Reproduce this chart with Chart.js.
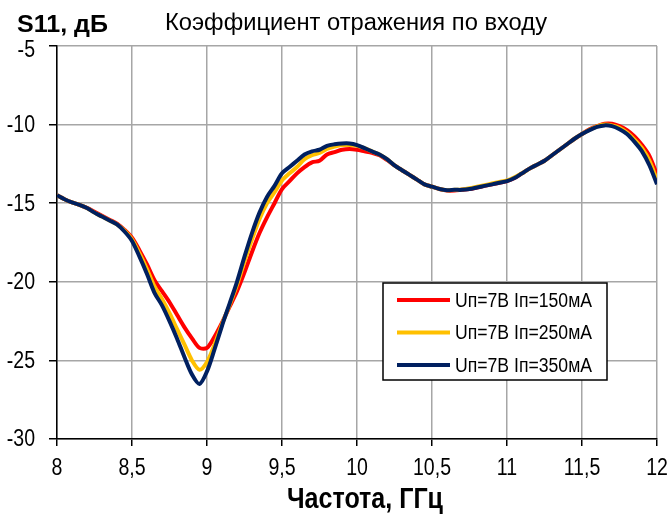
<!DOCTYPE html>
<html>
<head>
<meta charset="utf-8">
<script src="https://cdn.jsdelivr.net/npm/chart.js@4.4.1/dist/chart.umd.min.js"></script>
<style>
  html, body { margin: 0; padding: 0; background: #fff; }
  #wrap { width: 672px; height: 517px; position: relative; }
</style>
</head>
<body>
<div id="wrap"><canvas id="c" width="672" height="517"></canvas></div>
<script>
// Frequency grid, GHz
const freq = [
  8.00, 8.05, 8.10, 8.15, 8.20, 8.25, 8.30, 8.35, 8.40, 8.45,
  8.50, 8.55, 8.60, 8.65, 8.70, 8.75, 8.80, 8.85, 8.90, 8.95,
  9.00, 9.05, 9.10, 9.15, 9.20, 9.25, 9.30, 9.35, 9.40, 9.45,
  9.50, 9.55, 9.60, 9.65, 9.70, 9.75, 9.80, 9.85, 9.90, 9.95,
  10.00, 10.05, 10.10, 10.15, 10.20, 10.25, 10.30, 10.35, 10.40, 10.45,
  10.50, 10.55, 10.60, 10.65, 10.70, 10.75, 10.80, 10.85, 10.90, 10.95,
  11.00, 11.05, 11.10, 11.15, 11.20, 11.25, 11.30, 11.35, 11.40, 11.45,
  11.50, 11.55, 11.60, 11.65, 11.70, 11.75, 11.80, 11.85, 11.90, 11.95,
  12.00
];

// S11, dB at Iп = 150 mA
const s11_150 = [
  -14.5, -14.75, -14.95, -15.1, -15.3, -15.55, -15.8, -16.05, -16.3, -16.7,
  -17.2, -18.0, -18.9, -19.9, -20.6, -21.3, -22.1, -22.9, -23.6, -24.2,
  -24.2, -23.5, -22.6, -21.6, -20.6, -19.4, -18.1, -16.9, -15.9, -15.0,
  -14.1, -13.6, -13.1, -12.7, -12.4, -12.3, -11.9, -11.75, -11.6, -11.55,
  -11.6, -11.7, -11.8, -11.95, -12.25, -12.6, -12.9, -13.2, -13.5, -13.8,
  -13.95, -14.1, -14.2, -14.2, -14.15, -14.1, -14.0, -13.9, -13.8, -13.7,
  -13.6, -13.4, -13.1, -12.8, -12.55, -12.3, -11.95, -11.6, -11.25, -10.9,
  -10.6, -10.3, -10.1, -9.95, -9.95, -10.1, -10.35, -10.75, -11.3, -12.0,
  -13.2
];

// S11, dB at Iп = 250 mA
const s11_250 = [
  -14.5, -14.75, -14.95, -15.1, -15.3, -15.6, -15.85, -16.1, -16.35, -16.75,
  -17.3, -18.2, -19.2, -20.3, -21.1, -22.0, -23.0, -24.0, -25.0, -25.6,
  -25.1, -24.0, -22.7, -21.5, -20.2, -18.7, -17.3, -16.0, -15.0, -14.3,
  -13.55, -13.1, -12.7, -12.2, -11.95, -11.8, -11.55, -11.4, -11.3, -11.3,
  -11.35, -11.5, -11.7, -11.9, -12.2, -12.6, -12.9, -13.2, -13.5, -13.8,
  -13.95, -14.1, -14.17, -14.15, -14.12, -14.05, -13.95, -13.85, -13.75, -13.65,
  -13.55, -13.35, -13.1, -12.8, -12.55, -12.3, -11.95, -11.6, -11.25, -10.9,
  -10.6, -10.33, -10.12, -10.0, -10.05, -10.2, -10.5, -10.95, -11.5, -12.3,
  -13.55
];

// S11, dB at Iп = 350 mA
const s11_350 = [
  -14.5, -14.75, -14.95, -15.1, -15.3, -15.6, -15.85, -16.1, -16.35, -16.8,
  -17.4, -18.4, -19.5, -20.7, -21.5, -22.5, -23.6, -24.8, -25.9, -26.5,
  -25.7, -24.3, -22.8, -21.4, -20.0, -18.4, -16.9, -15.6, -14.6, -13.9,
  -13.1, -12.7, -12.3, -11.9, -11.7, -11.6, -11.35, -11.25, -11.2, -11.2,
  -11.3, -11.5, -11.7, -11.9, -12.2, -12.6, -12.9, -13.2, -13.5, -13.8,
  -13.95, -14.1, -14.17, -14.15, -14.15, -14.1, -14.0, -13.9, -13.8, -13.7,
  -13.6, -13.4, -13.1, -12.8, -12.55, -12.3, -11.95, -11.6, -11.25, -10.9,
  -10.6, -10.35, -10.15, -10.05, -10.1, -10.3, -10.6, -11.1, -11.7, -12.6,
  -13.8
];

const seriesLabels = ['Uп=7В Iп=150мА', 'Uп=7В Iп=250мА', 'Uп=7В Iп=350мА'];
const seriesColors = ['#ff0000', '#ffc000', '#002060'];
const seriesValues = [s11_150, s11_250, s11_350];

const xTicks = [8, 8.5, 9, 9.5, 10, 10.5, 11, 11.5, 12];
const yTicks = [-5, -10, -15, -20, -25, -30];

const FONT = '"Liberation Sans", Arial, sans-serif';
const NARROW = 0.85; // horizontal squeeze giving a narrow face

const datasets = seriesValues.map((vals, i) => ({
  label: seriesLabels[i],
  data: freq.map((f, k) => ({ x: f, y: vals[k] })),
  borderColor: seriesColors[i],
  backgroundColor: seriesColors[i],
  borderWidth: 4,
  pointRadius: 0,
  tension: 0.3,
  order: 3 - i
}));

const fmt = v => String(v).replace('.', ',');

// text drawn with a horizontal squeeze; if width is given the text is fitted to it
function squeezed(ctx, text, x, y, font, align, width) {
  ctx.save();
  ctx.font = font;
  const w = ctx.measureText(text).width;
  const sx = width ? width / w : NARROW;
  ctx.translate(x, y);
  ctx.scale(sx, 1);
  ctx.textAlign = align;
  ctx.fillText(text, 0, 0);
  ctx.restore();
}

// tick labels, headings and the boxed legend inside the plot
const decor = {
  id: 'decor',
  afterDraw(chart) {
    const ctx = chart.ctx;
    const xs = chart.scales.x, ys = chart.scales.y;
    ctx.save();
    ctx.fillStyle = '#000';

    // axis tick labels
    ctx.textBaseline = 'alphabetic';
    xTicks.forEach(v => {
      squeezed(ctx, fmt(v), xs.getPixelForValue(v), 475, '23px ' + FONT, 'center');
    });
    ctx.textBaseline = 'middle';
    yTicks.forEach(v => {
      const py = Math.max(ys.getPixelForValue(v) + 1, 51);
      squeezed(ctx, fmt(v), 35, py, '23px ' + FONT, 'right');
    });

    // headings
    ctx.textBaseline = 'alphabetic';
    squeezed(ctx, 'S11, дБ', 17, 32, 'bold 23px ' + FONT, 'left', 91);
    squeezed(ctx, 'Коэффициент отражения по входу', 165, 30, '23px ' + FONT, 'left', 382);
    squeezed(ctx, 'Частота, ГГц', 287, 508, 'bold 29px ' + FONT, 'left', 156);

    // legend
    const bx = 383, by = 283, bw = 224, bh = 97;
    ctx.fillStyle = '#fff';
    ctx.fillRect(bx, by, bw, bh);
    ctx.strokeStyle = '#000';
    ctx.lineWidth = 1.5;
    ctx.strokeRect(bx, by, bw, bh);
    ctx.textBaseline = 'middle';
    chart.data.datasets.forEach((ds, i) => {
      const ly = by + 17 + i * 32.5;
      ctx.strokeStyle = ds.borderColor;
      ctx.lineWidth = 4;
      ctx.beginPath();
      ctx.moveTo(397, ly);
      ctx.lineTo(450, ly);
      ctx.stroke();
      ctx.fillStyle = '#000';
      squeezed(ctx, ds.label, 455, ly + 1, '20px ' + FONT, 'left', 137);
    });
    ctx.restore();
  }
};

new Chart(document.getElementById('c'), {
  type: 'line',
  data: { datasets },
  options: {
    responsive: false,
    animation: false,
    layout: { padding: { top: 46, right: 15, left: 0, bottom: 0 } },
    plugins: {
      legend: { display: false },
      title: { display: false },
      tooltip: { enabled: false }
    },
    scales: {
      x: {
        type: 'linear',
        min: 8, max: 12,
        afterBuildTicks: s => { s.ticks = xTicks.map(v => ({ value: v })); },
        afterFit: s => { s.height = 78; },
        ticks: { display: false },
        grid: { color: '#a6a6a6', lineWidth: 1.5, tickColor: '#000', tickLength: 7, drawTicks: true },
        border: { color: '#000', width: 1.5 }
      },
      y: {
        min: -30, max: -5,
        afterBuildTicks: s => { s.ticks = yTicks.map(v => ({ value: v })); },
        afterFit: s => { s.width = 57; },
        ticks: { display: false },
        grid: { color: '#a6a6a6', lineWidth: 1.5, tickColor: '#000', tickLength: 8, drawTicks: true },
        border: { color: '#000', width: 1.5 }
      }
    }
  },
  plugins: [decor]
});
</script>
</body>
</html>
